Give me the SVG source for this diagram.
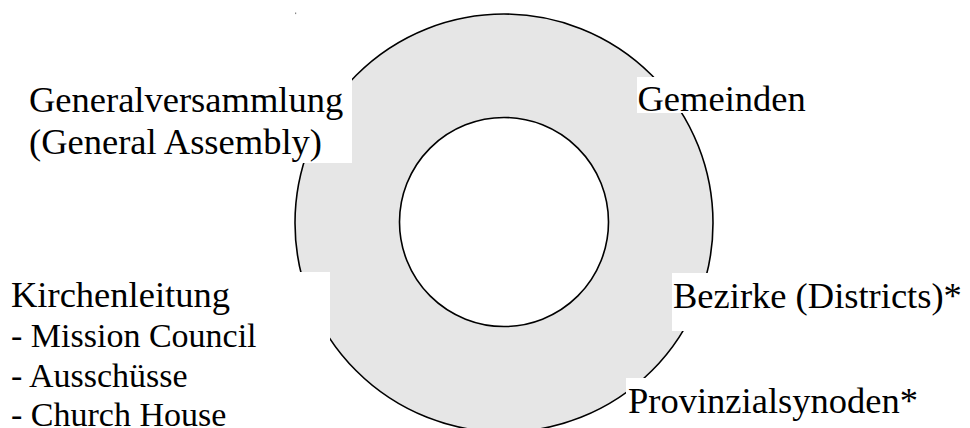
<svg xmlns="http://www.w3.org/2000/svg" width="970" height="428" viewBox="0 0 970 428">
<style>
.ring{fill:#e6e6e6;stroke:#000;stroke-width:1.6}
.hole{fill:#fff;stroke:#000;stroke-width:1.6}
.bg{fill:#fff;stroke:none}
</style>
<rect width="970" height="428" fill="#fff"/>
<g id="ring">
<circle class="ring" cx="504" cy="223" r="209"/>
<circle class="hole" cx="504" cy="222" r="104.5"/>
</g>
<rect x="295" y="12.5" width="1.2" height="1.6" fill="#888"/>
<g id="connectors"></g>
<g id="generalversammlung">
<rect class="bg" x="20" y="76" width="332" height="87"/>
<text x="29" y="112" font-size="36.5" font-family="Liberation Serif">Generalversammlung</text>
<text x="29" y="154" font-size="36.5" font-family="Liberation Serif">(General Assembly)</text>
</g>
<g id="gemeinden">
<rect class="bg" x="637" y="77" width="172" height="36"/>
<text x="637.5" y="111" font-size="36.5" font-family="Liberation Serif">Gemeinden</text>
</g>
<g id="kirchenleitung">
<rect class="bg" x="5" y="272" width="325" height="156"/>
<text x="11" y="306.5" font-size="36.5" font-family="Liberation Serif">Kirchenleitung</text>
<text x="11" y="347" font-size="34" font-family="Liberation Serif">- Mission Council</text>
<text x="11" y="386.5" font-size="34" font-family="Liberation Serif">- Aussch&#252;sse</text>
<text x="11" y="426" font-size="34" font-family="Liberation Serif">- Church House</text>
</g>
<g id="bezirke">
<rect class="bg" x="672" y="273" width="298" height="58"/>
<text x="673" y="307.5" font-size="36.5" font-family="Liberation Serif">Bezirke (Districts)*</text>
</g>
<g id="provinzialsynoden">
<rect class="bg" x="626" y="378" width="300" height="50"/>
<text x="628" y="413" font-size="36.5" font-family="Liberation Serif">Provinzialsynoden*</text>
</g>
</svg>
